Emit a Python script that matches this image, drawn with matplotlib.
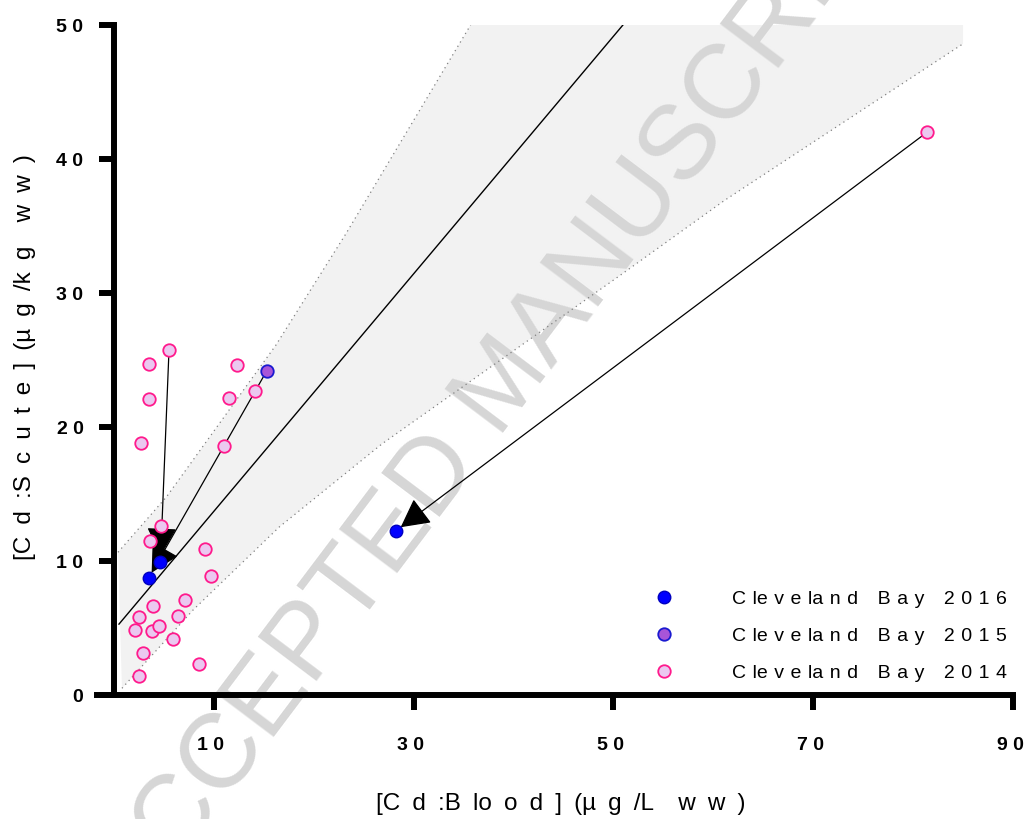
#Cd in scute vs Cd in blood, Cleveland Bay turtles 2014-2016
import matplotlib.pyplot as plt
from matplotlib.transforms import ScaledTranslation

plt.rcParams['font.family'] = ['Liberation Sans', 'DejaVu Sans']

# values
x2014 = [5.51, 3.46, 12.3, 3.49, 11.5, 14.1, 2.69, 11.0, 4.69, 3.59, 9.1, 9.67,
         7.11, 3.86, 2.46, 6.38, 2.09, 3.76, 4.46, 5.91, 2.92, 8.5, 2.52, 81.4]
y2014 = [25.76, 24.7, 24.6, 22.1, 22.2, 22.7, 18.8, 18.6, 12.6, 11.5, 10.86, 8.87,
         7.1, 6.63, 5.79, 5.91, 4.84, 4.74, 5.14, 4.2, 3.15, 2.31, 1.42, 42.0]
x2015 = [15.3]
y2015 = [24.2]
x2016 = [3.46, 4.65, 28.2]
y2016 = [8.72, 9.93, 12.24]

# recaptured animals: earlier sample -> 2016 sample
arrow_x0 = [81.4, 5.51, 15.3]
arrow_y0 = [42.0, 25.76, 24.2]
arrow_x1 = [28.2, 4.65, 3.46]
arrow_y1 = [12.24, 9.93, 8.72]

# regression line and prediction band
fit_x = [0.5, 50.95]
fit_y = [5.29, 50.0]
band_up_x = [0.4, 5.25, 16.2, 23.2, 35.7]
band_up_y = [10.65, 14.78, 26.1, 34.4, 50.0]
band_lo_x = [0.8, 7.9, 16.55, 26.85, 50.45, 61.1, 85.0]
band_lo_y = [0.5, 6.33, 12.54, 18.75, 31.2, 36.9, 48.6]

xticks = [10, 30, 50, 70, 90]
yticks = [0, 10, 20, 30, 40, 50]


def spaced(s, sp='\u2004'):
    # the original export has wide letter spacing
    return s.replace(' ', sp)


fig = plt.figure(figsize=(10.26, 8.19), dpi=100)
ax = fig.add_axes([97 / 1026, 124 / 819, 916 / 1026, 670 / 819])

# shaded band
poly_x = [band_lo_x[0]] + band_up_x + [band_lo_x[-1]] + band_lo_x[::-1]
poly_y = [band_lo_y[0]] + band_up_y + [band_up_y[-1]] + band_lo_y[::-1]
ax.fill(poly_x, poly_y, color='#f2f2f2', lw=0, zorder=1)
ax.plot(band_up_x, band_up_y, color='#808080', lw=0.9, ls=(0, (1, 3)), zorder=2)
ax.plot(band_lo_x, band_lo_y, color='#808080', lw=0.9, ls=(0, (1, 3)), zorder=2)
ax.plot(fit_x, fit_y, color='black', lw=1.0, zorder=3)

# watermark
ax.text(505 / 1026, 1 - 385 / 819, 'ACCEPTED MANUSCRIPT', transform=fig.transFigure,
        fontsize=76, color='#d6d6d6', rotation=53, ha='center', va='center',
        rotation_mode='anchor', zorder=1.5)

for i in range(len(arrow_x0)):
    ax.annotate('', xy=(arrow_x1[i], arrow_y1[i]), xytext=(arrow_x0[i], arrow_y0[i]),
                arrowprops=dict(arrowstyle='-|>,head_length=1.8,head_width=0.95',
                                mutation_scale=10, color='black', lw=0.9,
                                shrinkA=0, shrinkB=4.5), zorder=3)

ax.plot(x2014, y2014, 'o', ms=9, mfc='#ebc8f0', mec='#ff1a8c', mew=1.3,
        ls='none', zorder=4, label=spaced('C le v e la n d   B a y   2 0 1 4'))
ax.plot(x2015, y2015, 'o', ms=9, mfc='#a855d8', mec='#1a1ad0', mew=1.3,
        ls='none', zorder=4, label=spaced('C le v e la n d   B a y   2 0 1 5'))
ax.plot(x2016, y2016, 'o', ms=9, mfc='#0000ff', mec='#0000c0', mew=1.0,
        ls='none', zorder=4, label=spaced('C le v e la n d   B a y   2 0 1 6'))

ax.set_xlim(-1.7, 90)
ax.set_ylim(0, 50)
ax.spines['top'].set_visible(False)
ax.spines['right'].set_visible(False)
ax.spines['left'].set_position(('data', 0))
ax.spines['left'].set_linewidth(4.3)
ax.spines['bottom'].set_linewidth(4.3)

ax.set_xticks(xticks)
ax.set_xticklabels([' '.join(str(t)) for t in xticks])
ax.set_yticks(yticks)
ax.set_yticklabels([' '.join(str(t)) for t in yticks])
ax.tick_params(axis='both', direction='out', length=11, width=4.3, labelsize=14)
ax.tick_params(axis='x', pad=19)
ax.tick_params(axis='y', pad=11)
shift = ScaledTranslation(-3 / 100, 0, fig.dpi_scale_trans)
for lab in ax.get_xticklabels():
    lab.set_fontweight('bold')
    lab.set_transform(lab.get_transform() + shift)
for lab in ax.get_yticklabels():
    lab.set_fontweight('bold')

fig.text(561 / 1026, 1 - 804 / 819, spaced('[C d :B lo o d ] (µ g /L  w w )', '\u2002'),
         fontsize=17.5, ha='center', va='center')
fig.text(25 / 1026, 1 - 357 / 819, spaced('[C d :S c u t e ] (µ g /k g  w w )', '\u2002'),
         fontsize=17.5, ha='center', va='center', rotation=90)

handles, labels = ax.get_legend_handles_labels()
ax.legend(handles[::-1], labels[::-1], loc='upper left',
          bbox_to_anchor=(654 / 1026, 1 - 590 / 819), bbox_transform=fig.transFigure,
          frameon=False, fontsize=14, handlelength=1, handletextpad=3.0,
          labelspacing=1.0, borderpad=0, borderaxespad=0)

fig.savefig('out.png', dpi=100)
